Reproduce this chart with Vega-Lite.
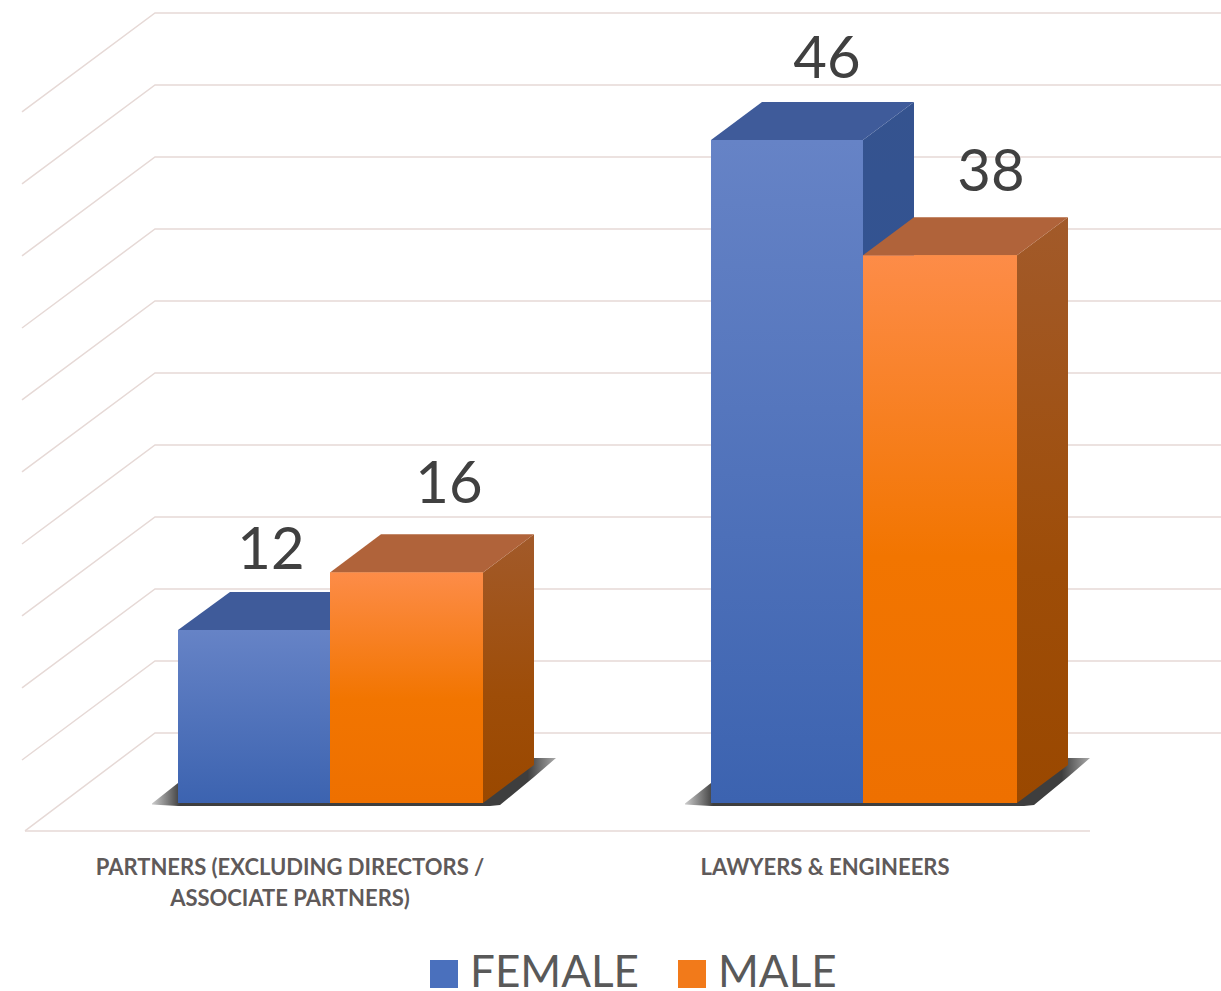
{
"$schema":"https://vega.github.io/schema/vega-lite/v6.json",
"width":1221,"height":991,"padding":0,"autosize":{"type":"none"},
"background":"#ffffff",
"config":{"view":{"stroke":null},"font":"Lato"},
"datasets":{
"grid":[
{"id":"g11","x":22,"v":47.95},{"id":"g11","x":155,"v":54.82},{"id":"g11","x":1221,"v":54.82},
{"id":"g10","x":22,"v":42.96},{"id":"g10","x":155,"v":49.83},{"id":"g10","x":1221,"v":49.83},
{"id":"g09","x":22,"v":37.96},{"id":"g09","x":155,"v":44.83},{"id":"g09","x":1221,"v":44.83},
{"id":"g08","x":22,"v":32.96},{"id":"g08","x":155,"v":39.83},{"id":"g08","x":1221,"v":39.83},
{"id":"g07","x":22,"v":27.97},{"id":"g07","x":155,"v":34.84},{"id":"g07","x":1221,"v":34.84},
{"id":"g06","x":22,"v":22.97},{"id":"g06","x":155,"v":29.84},{"id":"g06","x":1221,"v":29.84},
{"id":"g05","x":22,"v":17.97},{"id":"g05","x":155,"v":24.84},{"id":"g05","x":1221,"v":24.84},
{"id":"g04","x":22,"v":12.98},{"id":"g04","x":155,"v":19.85},{"id":"g04","x":1221,"v":19.85},
{"id":"g03","x":22,"v":7.98},{"id":"g03","x":155,"v":14.85},{"id":"g03","x":1221,"v":14.85},
{"id":"g02","x":22,"v":2.98},{"id":"g02","x":155,"v":9.85},{"id":"g02","x":1221,"v":9.85},
{"id":"g01","x":25,"v":-1.94},{"id":"g01","x":155,"v":4.86},{"id":"g01","x":1221,"v":4.86},
{"id":"g00","x":25,"v":-1.94},{"id":"g00","x":1090,"v":-1.94}
],
"shadow":[
{"id":"a","x":152,"top":-0.03,"bot":-0.1},{"id":"a","x":178,"top":1.39,"bot":-0.21},{"id":"a","x":490,"top":0.9,"bot":-0.21},{"id":"a","x":500,"top":1.6,"bot":-0.14},{"id":"a","x":534,"top":3.12,"bot":1.8},{"id":"a","x":556,"top":3.12,"bot":3.12},
{"id":"b","x":685,"top":-0.03,"bot":-0.1},{"id":"b","x":711,"top":1.39,"bot":-0.21},{"id":"b","x":1024,"top":0.9,"bot":-0.21},{"id":"b","x":1034,"top":1.6,"bot":-0.14},{"id":"b","x":1068,"top":3.12,"bot":1.8},{"id":"b","x":1090,"top":3.12,"bot":3.12}
],
"faces":[
{"series":"FEMALE","face":"side","id":"ps","x":330,"top":12,"bot":0},{"series":"FEMALE","face":"side","id":"ps","x":381,"top":14.64,"bot":2.64},
{"series":"FEMALE","face":"cap","id":"pc","x":178,"top":12,"bot":12},{"series":"FEMALE","face":"cap","id":"pc","x":230,"top":14.64,"bot":12},{"series":"FEMALE","face":"cap","id":"pc","x":330,"top":14.64,"bot":12},{"series":"FEMALE","face":"cap","id":"pc","x":381,"top":14.64,"bot":14.64},
{"series":"MALE","face":"side","id":"qs","x":483,"top":16,"bot":0},{"series":"MALE","face":"side","id":"qs","x":534,"top":18.64,"bot":2.64},
{"series":"MALE","face":"cap","id":"qc","x":330,"top":16,"bot":16},{"series":"MALE","face":"cap","id":"qc","x":381,"top":18.64,"bot":16},{"series":"MALE","face":"cap","id":"qc","x":483,"top":18.64,"bot":16},{"series":"MALE","face":"cap","id":"qc","x":534,"top":18.64,"bot":18.64},
{"series":"FEMALE","face":"side","id":"rs","x":863,"top":46,"bot":0},{"series":"FEMALE","face":"side","id":"rs","x":914,"top":48.64,"bot":2.64},
{"series":"FEMALE","face":"cap","id":"rc","x":711,"top":46,"bot":46},{"series":"FEMALE","face":"cap","id":"rc","x":762,"top":48.64,"bot":46},{"series":"FEMALE","face":"cap","id":"rc","x":863,"top":48.64,"bot":46},{"series":"FEMALE","face":"cap","id":"rc","x":914,"top":48.64,"bot":48.64},
{"series":"MALE","face":"side","id":"ss","x":1017,"top":38,"bot":0},{"series":"MALE","face":"side","id":"ss","x":1068,"top":40.64,"bot":2.64},
{"series":"MALE","face":"cap","id":"sc","x":863,"top":38,"bot":38},{"series":"MALE","face":"cap","id":"sc","x":914,"top":40.64,"bot":38},{"series":"MALE","face":"cap","id":"sc","x":1017,"top":40.64,"bot":38},{"series":"MALE","face":"cap","id":"sc","x":1068,"top":40.64,"bot":40.64}
],
"bars":[
{"category":"Partners","series":"FEMALE","value":12,"x0":178,"x1":330,"base":0},
{"category":"Partners","series":"MALE","value":16,"x0":330,"x1":483,"base":0},
{"category":"Lawyers & Engineers","series":"FEMALE","value":46,"x0":711,"x1":863,"base":0},
{"category":"Lawyers & Engineers","series":"MALE","value":38,"x0":863,"x1":1017,"base":0}
],
"values":[
{"label":"12","x":271,"v":16.2},{"label":"16","x":449,"v":20.8},{"label":"46","x":827,"v":50.3},{"label":"38","x":991,"v":42.5}
],
"cats":[
{"label":"PARTNERS (EXCLUDING DIRECTORS /","x":290,"v":-5.0},
{"label":"ASSOCIATE PARTNERS)","x":290,"v":-7.15},
{"label":"LAWYERS & ENGINEERS","x":825,"v":-5.0}
]
},
"encoding":{
"x":{"field":"x","type":"quantitative","scale":{"domain":[0,1221],"nice":false,"zero":false},"axis":null},
"y":{"field":"v","type":"quantitative","scale":{"domain":[-13.05,55.72],"nice":false,"zero":false},"axis":null}
},
"layer":[
{"data":{"name":"grid"},"mark":{"type":"line","color":"#e6d9d6","strokeWidth":1.5},"encoding":{"detail":{"field":"id"}}},
{"data":{"name":"shadow"},"mark":{"type":"area","color":{"gradient":"linear","x1":0,"y1":0,"x2":1,"y2":0,"stops":[{"offset":0,"color":"#cccccc"},{"offset":0.07,"color":"#3e3e3e"},{"offset":0.93,"color":"#3e3e3e"},{"offset":1,"color":"#aaaaaa"}]}},"encoding":{"y":{"field":"top","type":"quantitative"},"y2":{"field":"bot"},"detail":{"field":"id"}}},
{"data":{"name":"bars"},"mark":{"type":"rect"},"encoding":{"x":{"field":"x0","type":"quantitative"},"x2":{"field":"x1"},"y":{"field":"value","type":"quantitative"},"y2":{"field":"base"},
"color":{"field":"series","type":"nominal","scale":{"domain":["FEMALE","MALE"],"range":["#4a70bd","#f27a1a"]},
"legend":{"title":null,"orient":"none","legendX":422,"legendY":954,"direction":"horizontal","columns":2,"symbolType":"square","symbolSize":784,"symbolStrokeWidth":0,"symbolOpacity":1,"labelFont":"Lato","labelFontSize":44,"labelColor":"#595959","labelOffset":4,"columnPadding":31,"labelLimit":300,"clipHeight":40}}}},
{"data":{"name":"faces"},"transform":[{"filter":"datum.series==='FEMALE' && datum.face==='side'"}],"mark":{"type":"area","color":{"gradient":"linear","x1":0,"y1":0,"x2":0,"y2":1,"stops":[{"offset":0,"color":"#35538f"},{"offset":1,"color":"#2c5398"}]}},"encoding":{"y":{"field":"top","type":"quantitative"},"y2":{"field":"bot"},"detail":{"field":"id"}}},
{"data":{"name":"faces"},"transform":[{"filter":"datum.series==='FEMALE' && datum.face==='cap'"}],"mark":{"type":"area","color":"#3f5b9a"},"encoding":{"y":{"field":"top","type":"quantitative"},"y2":{"field":"bot"},"detail":{"field":"id"}}},
{"data":{"name":"bars"},"transform":[{"filter":"datum.series==='FEMALE'"}],"mark":{"type":"rect","color":{"gradient":"linear","x1":0,"y1":0,"x2":0,"y2":1,"stops":[{"offset":0,"color":"#6683c6"},{"offset":1,"color":"#3c63b0"}]}},"encoding":{"x":{"field":"x0","type":"quantitative"},"x2":{"field":"x1"},"y":{"field":"value","type":"quantitative"},"y2":{"field":"base"}}},
{"data":{"name":"faces"},"transform":[{"filter":"datum.series==='MALE' && datum.face==='side'"}],"mark":{"type":"area","color":{"gradient":"linear","x1":0,"y1":0,"x2":0,"y2":1,"stops":[{"offset":0,"color":"#a25a2a"},{"offset":0.6,"color":"#9e4d08"},{"offset":1,"color":"#9a4800"}]}},"encoding":{"y":{"field":"top","type":"quantitative"},"y2":{"field":"bot"},"detail":{"field":"id"}}},
{"data":{"name":"faces"},"transform":[{"filter":"datum.series==='MALE' && datum.face==='cap'"}],"mark":{"type":"area","color":"#b0633a"},"encoding":{"y":{"field":"top","type":"quantitative"},"y2":{"field":"bot"},"detail":{"field":"id"}}},
{"data":{"name":"bars"},"transform":[{"filter":"datum.series==='MALE'"}],"mark":{"type":"rect","color":{"gradient":"linear","x1":0,"y1":0,"x2":0,"y2":1,"stops":[{"offset":0,"color":"#fd8c48"},{"offset":0.55,"color":"#f27500"},{"offset":1,"color":"#ee7000"}]}},"encoding":{"x":{"field":"x0","type":"quantitative"},"x2":{"field":"x1"},"y":{"field":"value","type":"quantitative"},"y2":{"field":"base"}}},
{"data":{"name":"values"},"mark":{"type":"text","font":"Lato","fontSize":58,"color":"#404040","align":"center","baseline":"alphabetic"},"encoding":{"text":{"field":"label"}}},
{"data":{"name":"cats"},"mark":{"type":"text","font":"Lato","fontWeight":"bold","fontSize":22,"color":"#5f5a5a","align":"center","baseline":"alphabetic"},"encoding":{"text":{"field":"label"}}}
]
}
